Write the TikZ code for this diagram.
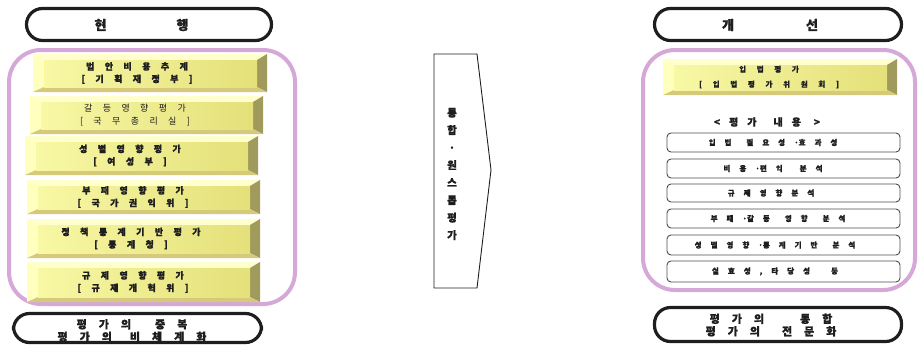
\documentclass[tikz,border=0pt]{standalone}
\usepackage{fontspec}
\setmainfont{Noto Sans CJK KR}[BoldFeatures={FakeBold=1.2}]
\definecolor{purp}{RGB}{214,168,216}
\definecolor{faceL}{RGB}{248,248,165}
\definecolor{faceR}{RGB}{228,224,122}
\definecolor{bevL}{RGB}{255,255,190}
\definecolor{bevT}{RGB}{255,255,205}
\definecolor{bevR}{RGB}{160,154,92}
\definecolor{bevB}{RGB}{212,202,122}
\definecolor{ink}{RGB}{30,30,30}
\newcommand\bevbox[8]{% name, x1, y1, x2, y2, text x, font style, text
  \fill[bevT] (#2,#3) -- (#4,#3) -- ({#4-10},{#3+6}) -- ({#2+11},{#3+6}) -- cycle;
  \fill[bevL] (#2,#3) -- ({#2+11},{#3+6}) -- ({#2+11},{#5-5}) -- (#2,#5) -- cycle;
  \fill[bevR] (#4,#3) -- (#4,#5) -- ({#4-10},{#5-5}) -- ({#4-10},{#3+6}) -- cycle;
  \fill[bevB] (#2,#5) -- (#4,#5) -- ({#4-10},{#5-5}) -- ({#2+11},{#5-5}) -- cycle;
  \shade[left color=faceL,right color=faceR] ({#2+11},{#3+6}) rectangle ({#4-10},{#5-5});
  \node[#7] (#1) at (#6,{(#3+#5)/2}) {#8};
}
\newcommand\wbox[5]{% name, y1, y2, text x, text
  \node[wframe, minimum width=233pt, minimum height={#3-#2}] (#1f) at (783.5,{(#2+#3)/2}) {};
  \node[wtext] (#1) at (#4,{(#2+#3)/2}) {#5};
}
\begin{document}
\begin{tikzpicture}[x=1pt,y=-1pt,
  stadium/.style={draw=ink, line width=3.2pt, rounded corners=16pt, inner sep=0pt},
  frame/.style={draw=purp, line width=4pt, rounded corners=32pt, inner sep=0pt},
  btext/.style={align=center, inner sep=0pt, text=ink,
    font={\bfseries\fontsize{9}{12.5}\selectfont\spaceskip=10.4pt\relax}},
  rtext/.style={align=center, inner sep=0pt, text=ink,
    font={\fontsize{9}{12.5}\selectfont\spaceskip=10.4pt\relax}},
  ytext/.style={align=center, inner sep=0pt, text=ink,
    font={\bfseries\fontsize{7.5}{15}\selectfont\spaceskip=10.7pt\relax}},
  wframe/.style={draw=black!70, line width=0.9pt, rounded corners=4pt, inner sep=0pt},
  wtext/.style={align=center, inner sep=0pt, text=ink,
    font={\bfseries\fontsize{7.5}{9}\selectfont\spaceskip=9pt\relax}},
  ltext/.style={align=center, inner sep=0pt, text=ink,
    font={\bfseries\fontsize{11}{12.5}\selectfont\spaceskip=12pt\relax}},
  htext/.style={inner sep=0pt, text=ink, font={\bfseries\fontsize{13}{15}\selectfont}}
]
\useasboundingbox (0,0) rectangle (923,346);

% ---------- left column ----------
\node[stadium, minimum width=245pt, minimum height=32pt] (curE) at (149,24.5) {};
\node[htext] (cur) at (141.5,25) {현\hspace{70pt}행};

\node[frame, minimum width=286pt, minimum height=254pt] (lframe) at (152,177) {};

\bevbox{b1}{33}{54}{267}{92}{137}{btext}{법 안 비 용 추 계\\{}[ 기 획 재 정 부 ]}
\bevbox{b2}{30}{96}{263}{134}{135}{rtext}{갈 등 영 향 평 가\\{}[ 국 무 총 리 실 ]}
\bevbox{b3}{25}{136}{258}{175}{130}{btext}{성 별 영 향 평 가\\{}[ 여 성 부 ]}
\bevbox{b4}{27}{180}{260}{214}{133}{btext}{부 패 영 향 평 가\\{}[ 국 가 권 익 위 ]}
\bevbox{b5}{27}{219}{260}{258}{131}{btext}{정 책 통 계 기 반 평 가\\{}[ 통 계 청 ]}
\bevbox{b6}{27}{262}{260}{302}{133}{btext}{규 제 영 향 평 가\\{}[ 규 제 개 혁 위 ]}

\node[stadium, minimum width=248pt, minimum height=29pt] (lbotE) at (137.5,328) {};
\node[ltext] (lbot) at (132,330.5) {평 가 의\hspace{12pt} 중 복\\평 가 의\hspace{6pt} 비 체 계 화};

% ---------- middle arrow ----------
\coordinate (a1) at (434,54);
\coordinate (a2) at (477,54);
\coordinate (a3) at (491,170);
\coordinate (a4) at (477,288);
\coordinate (a5) at (434,288);
\draw[ink, line width=0.9pt, line join=miter] (a1) -- (a2) -- (a3) -- (a4) -- (a5) -- cycle;
\node[align=center, inner sep=0pt, text=ink,
  font={\bfseries\fontsize{10.5}{17.5}\selectfont}] (mid) at (452,174)
  {통\\합\\·\\원\\스\\톱\\평\\가};

% ---------- right column ----------
\node[stadium, minimum width=247pt, minimum height=32pt] (newE) at (778,24.5) {};
\node[htext] (new) at (770,25) {개\hspace{72pt}선};

\node[frame, minimum width=272pt, minimum height=240pt] (rframe) at (779,170) {};

\bevbox{rb}{663}{59}{897}{95}{769}{ytext}{입 법 평 가\\{}[ 입 법 평 가 위 원 회 ]}

\node[inner sep=0pt, text=ink, font={\bfseries\fontsize{10}{12}\selectfont\spaceskip=9pt\relax}]
  (cont) at (767,122) {< 평 가\hspace{8pt} 내 용 \hspace{4pt}>};

\wbox{w1}{133}{152}{773}{입 법\hspace{6pt} 필 요 성 ·효 과 성}
\wbox{w2}{159}{178}{773}{비 용 ·편 익\hspace{8pt} 분 석}
\wbox{w3}{184}{202}{771}{규 제 영 향 분 석}
\wbox{w4}{209}{228}{778}{부 패 ·갈 등\hspace{6pt} 영 향\hspace{6pt} 분 석}
\wbox{w5}{235}{255}{775}{성 별 영 향 ·통 계 기 반\hspace{6pt} 분 석}
\wbox{w6}{261}{282}{775}{실 효 성 , 타 당 성\hspace{12pt} 등}

\node[stadium, minimum width=247pt, minimum height=34pt] (rbotE) at (778,324.5) {};
\node[ltext] (rbot) at (771,325) {평 가 의\hspace{24pt} 통 합\\평 가 의\hspace{10pt} 전 문 화};
\end{tikzpicture}
\end{document}
